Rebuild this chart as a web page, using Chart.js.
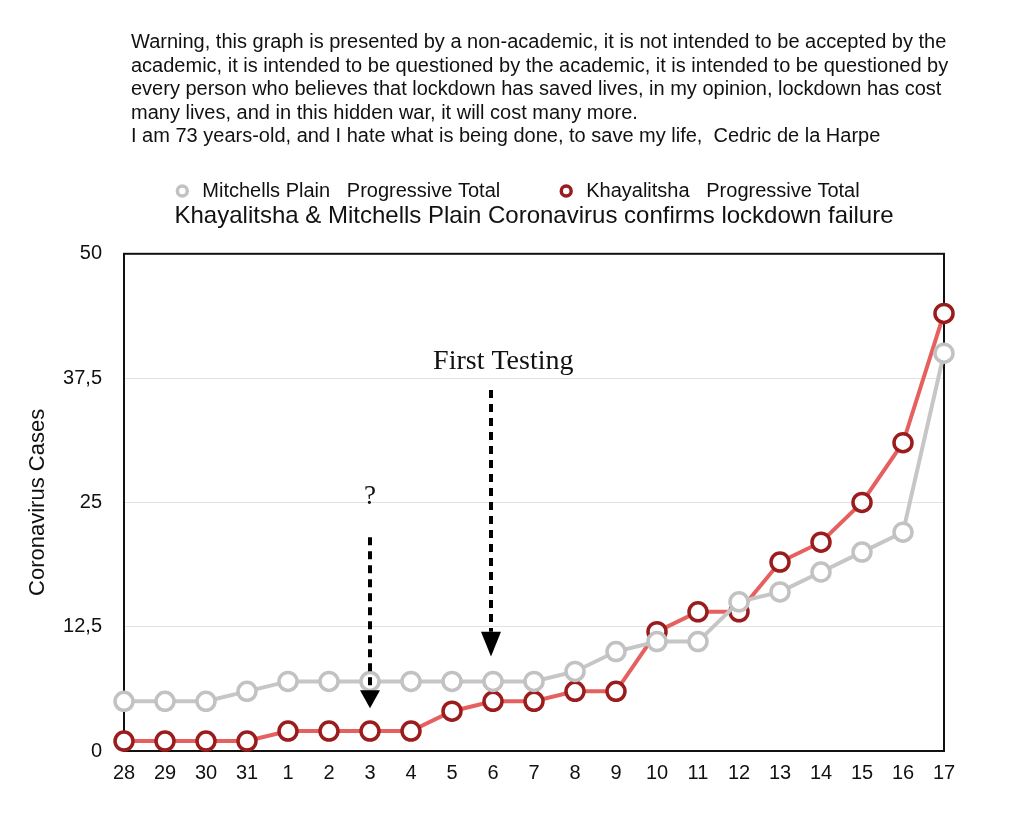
<!DOCTYPE html>
<html><head><meta charset="utf-8">
<script src="https://cdn.jsdelivr.net/npm/chart.js@4/dist/chart.umd.min.js"></script>
<style>
html,body{margin:0;padding:0;background:#fff;}
#wrap{position:relative;width:1024px;height:830px;}
#note{position:absolute;left:131px;top:30px;font-family:"Liberation Sans",Arial,Helvetica,sans-serif;font-size:20px;line-height:23.5px;color:#111;white-space:pre;}
canvas{position:absolute;left:0;top:0;}
</style></head>
<body><div id="wrap"><canvas id="c" width="1024" height="830"></canvas><div id="note">Warning, this graph is presented by a non-academic, it is not intended to be accepted by the
academic, it is intended to be questioned by the academic, it is intended to be questioned by
every person who believes that lockdown has saved lives, in my opinion, lockdown has cost
many lives, and in this hidden war, it will cost many more.
I am 73 years-old, and I hate what is being done, to save my life,  Cedric de la Harpe</div></div>
<script>
const categories = ['28','29','30','31','1','2','3','4','5','6','7','8','9','10','11','12','13','14','15','16','17'];
const mitchellsPlain = [5,5,5,6,7,7,7,7,7,7,7,8,10,11,11,15,16,18,20,22,40];
const khayalitsha = [1,1,1,1,2,2,2,2,4,5,5,6,6,12,14,14,19,21,25,31,44];
const yTicks = [0,12.5,25,37.5,50];

const FONT = '"Liberation Sans", Arial, Helvetica, sans-serif';
const SERIF = '"Liberation Serif", "Times New Roman", serif';

const legendShift = {
  id: 'legendShift',
  afterLayout(chart) {
    const l = chart.legend;
    if (!l) return;
    l.left -= 18; l.right -= 18;
    l.top += 9; l.bottom += 9;
  }
};

const boxPlugin = {
  id: 'box',
  beforeDatasetsDraw(chart) {
    const {ctx, chartArea: a} = chart;
    ctx.save();
    ctx.strokeStyle = '#111';
    ctx.lineWidth = 2;
    ctx.strokeRect(a.left, a.top, a.right - a.left, a.bottom - a.top);
    ctx.restore();
  }
};

const arrowPlugin = {
  id: 'arrows',
  afterDatasetsDraw(chart) {
    const {ctx, scales: {x, y}} = chart;
    const arrows = [
      {i: 6, from: 21.5, head: 6.1, tip: 4.3, dx: 0},
      {i: 9, from: 36.3, head: 12.0, tip: 9.5, dx: -2}
    ];
    ctx.save();
    arrows.forEach(a => {
      const px = x.getPixelForValue(a.i) + a.dx;
      const y0 = y.getPixelForValue(a.from), y1 = y.getPixelForValue(a.head), y2 = y.getPixelForValue(a.tip);
      ctx.strokeStyle = '#000';
      ctx.lineWidth = 4;
      ctx.setLineDash([8, 6]);
      ctx.beginPath(); ctx.moveTo(px, y0); ctx.lineTo(px, y1); ctx.stroke();
      ctx.setLineDash([]);
      ctx.fillStyle = '#000';
      ctx.beginPath(); ctx.moveTo(px - 10, y1); ctx.lineTo(px + 10, y1); ctx.lineTo(px, y2); ctx.closePath(); ctx.fill();
    });
    ctx.fillStyle = '#111';
    ctx.textAlign = 'center';
    ctx.textBaseline = 'middle';
    ctx.font = '27px ' + SERIF;
    ctx.fillText('?', x.getPixelForValue(6), y.getPixelForValue(25.6));
    ctx.font = '28px ' + SERIF;
    ctx.fillText('First Testing', x.getPixelForValue(9.25), y.getPixelForValue(39.2));
    ctx.restore();
  }
};

new Chart(document.getElementById('c'), {
  type: 'line',
  data: {
    labels: categories,
    datasets: [
      {
        label: 'Mitchells Plain   Progressive Total',
        data: mitchellsPlain,
        borderColor: '#c6c6c6',
        borderWidth: 4,
        pointRadius: 9,
        pointBorderWidth: 3.5,
        pointBorderColor: '#c2c2c2',
        pointBackgroundColor: '#ffffff',
        clip: false,
        tension: 0
      },
      {
        label: 'Khayalitsha   Progressive Total',
        data: khayalitsha,
        borderColor: '#e66060',
        borderWidth: 4,
        pointRadius: 9,
        pointBorderWidth: 3.5,
        pointBorderColor: '#9a1c1c',
        pointBackgroundColor: '#ffffff',
        clip: false,
        tension: 0
      }
    ]
  },
  options: {
    responsive: false,
    animation: false,
    events: [],
    layout: {padding: {top: 116, left: 0, right: 80, bottom: 35}},
    plugins: {
      legend: {
        position: 'top',
        weight: 3000,
        fullSize: false,
        labels: {
          usePointStyle: true,
          boxWidth: 20,
          boxHeight: 7,
          padding: 56,
          color: '#111',
          font: {family: FONT, size: 20}
        }
      },
      title: {
        display: true,
        text: 'Khayalitsha & Mitchells Plain Coronavirus confirms lockdown failure',
        fullSize: false,
        color: '#111',
        font: {family: FONT, size: 24, weight: 'normal'},
        padding: {top: 0, bottom: 23}
      },
      tooltip: {enabled: false}
    },
    scales: {
      x: {
        offset: false,
        grid: {display: false, drawTicks: false},
        border: {display: false},
        ticks: {color: '#111', font: {family: FONT, size: 20}, padding: 10, maxRotation: 0, autoSkip: false}
      },
      y: {
        min: 0, max: 50,
        afterFit(s) { s.width = 124; },
        afterBuildTicks(s) { s.ticks = yTicks.map(v => ({value: v})); },
        grid: {color: '#e2e2e2', lineWidth: 1, drawTicks: false},
        border: {display: false},
        ticks: {
          color: '#111', font: {family: FONT, size: 20}, padding: 22,
          callback: v => String(v).replace('.', ',')
        },
        title: {display: true, text: 'Coronavirus Cases', color: '#111', font: {family: FONT, size: 22}, padding: {top: 25, bottom: 0}}
      }
    }
  },
  plugins: [legendShift, boxPlugin, arrowPlugin]
});
</script>
</body></html>
